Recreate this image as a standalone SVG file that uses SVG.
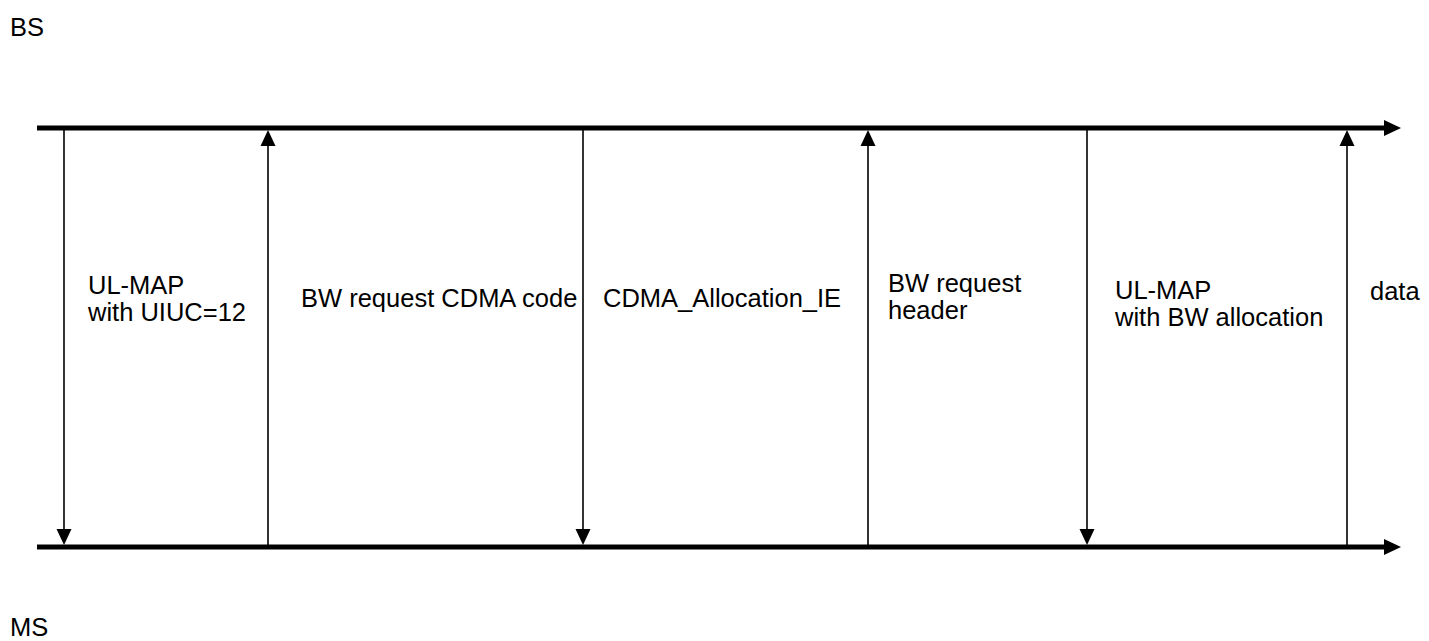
<svg xmlns="http://www.w3.org/2000/svg" width="1429" height="641" viewBox="0 0 1429 641">
<style>
text{font-family:"Liberation Sans",Arial,sans-serif;font-size:25.5px;fill:#000}
.axis{stroke:#000;stroke-width:5;fill:none}
.msg{stroke:#000;stroke-width:1.6;fill:none}
.head{fill:#000;stroke:none}
</style>
<rect width="1429" height="641" fill="#fff"/>
<g id="BS"><text x="10" y="36">BS</text></g>
<g id="MS"><text x="10" y="636">MS</text></g>
<g id="connectors">
<line class="axis" x1="37" y1="128" x2="1388" y2="128"/>
<polygon class="head" points="1384,120 1401,128 1384,136"/>
<line class="axis" x1="37" y1="547" x2="1388" y2="547"/>
<polygon class="head" points="1384,539 1401,547 1384,555"/>
<line class="msg" x1="64" y1="130" x2="64" y2="532"/>
<polygon class="head" points="56.5,529 71.5,529 64,545"/>
<line class="msg" x1="268" y1="545" x2="268" y2="143"/>
<polygon class="head" points="260.5,146 275.5,146 268,130"/>
<line class="msg" x1="583" y1="130" x2="583" y2="532"/>
<polygon class="head" points="575.5,529 590.5,529 583,545"/>
<line class="msg" x1="868" y1="545" x2="868" y2="143"/>
<polygon class="head" points="860.5,146 875.5,146 868,130"/>
<line class="msg" x1="1087" y1="130" x2="1087" y2="532"/>
<polygon class="head" points="1079.5,529 1094.5,529 1087,545"/>
<line class="msg" x1="1347" y1="545" x2="1347" y2="143"/>
<polygon class="head" points="1339.5,146 1354.5,146 1347,130"/>
</g>
<g id="label1"><text x="88" y="294">UL-MAP</text><text x="88" y="321">with UIUC=12</text></g>
<g id="label2"><text x="301" y="307">BW request CDMA code</text></g>
<g id="label3"><text x="603" y="307">CDMA_Allocation_IE</text></g>
<g id="label4"><text x="888" y="292">BW request</text><text x="888" y="319">header</text></g>
<g id="label5"><text x="1115" y="299">UL-MAP</text><text x="1115" y="326">with BW allocation</text></g>
<g id="label6"><text x="1370" y="300">data</text></g>
</svg>
